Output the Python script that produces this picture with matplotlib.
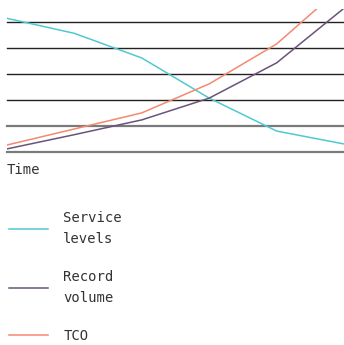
import matplotlib.pyplot as plt
from matplotlib.lines import Line2D

# Data (arbitrary units)
time = [0, 1, 2, 3, 4, 5]
service_levels = [5.16, 4.58, 3.63, 2.08, 0.81, 0.31]
record_volume = [0.12, 0.67, 1.24, 2.08, 3.44, 5.55]
tco = [0.27, 0.89, 1.51, 2.63, 4.17, 6.45]
grid_levels = [0, 1, 2, 3, 4, 5]

names = ['Service\nlevels', 'Record\nvolume', 'TCO']
colors = ['#4fc9d1', '#6a5378', '#f4896e']

plt.rcParams['font.family'] = ['DejaVu Sans Mono']

fig = plt.figure(figsize=(3.44, 3.45), dpi=100)
ax = fig.add_axes([7 / 344, (345 - 154.6) / 345, 1 - 7 / 344, (154.6 - 9) / 345])

# Horizontal reference lines
for lvl in grid_levels:
    c = '#7a7a7a' if lvl <= 1 else '#222222'
    w = 1.6 if lvl <= 1 else 1.0
    ax.axhline(lvl, color=c, linewidth=w, zorder=1, clip_on=False)

for vals, c in zip([service_levels, record_volume, tco], colors):
    ax.plot(time, vals, color=c, linewidth=1.1, zorder=2)

ax.set_xlim(0, 5)
ax.set_ylim(-0.1, 5.52)
ax.set_xticks([])
ax.set_yticks([])
for s in ax.spines.values():
    s.set_visible(False)
ax.set_xlabel('Time', loc='left', fontsize=10, color='#333333', labelpad=6)

# Legend
handles = [Line2D([0], [0], color=c, linewidth=1.1) for c in colors]
leg = fig.legend(handles, names, loc='upper left', bbox_to_anchor=(9 / 344, (345 - 211.5) / 345),
                 frameon=False, fontsize=10, handlelength=2.8, handletextpad=1.1,
                 labelspacing=1.75, borderaxespad=0, borderpad=0)
for t in leg.get_texts():
    t.set_linespacing(1.6)
    t.set_color('#333333')

plt.savefig('out.png', dpi=100)
plt.close()
